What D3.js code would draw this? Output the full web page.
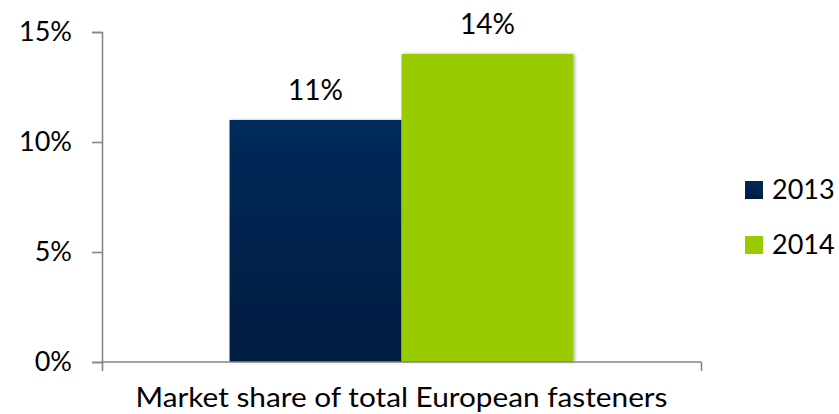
<!DOCTYPE html>
<html>
<head>
<meta charset="utf-8">
<script src="https://cdn.jsdelivr.net/npm/d3@7"></script>
<style>
  body { margin:0; background:#fff; }
  svg text { font-family: Lato, "Open Sans", sans-serif; fill:#000; }
</style>
</head>
<body>
<div id="chart"></div>
<script>
// data
var categories = ["Market share of total European fasteners"];
var seriesNames = ["2013", "2014"];
var values2013 = [11];
var values2014 = [14];
var yTicks = [0, 5, 10, 15];
var barColors = ["#022858", "#99CC00"];

var width = 839, height = 414;
var plot = {left: 102, top: 32, right: 701, bottom: 362};

var svg = d3.select("#chart").append("svg")
  .attr("width", width).attr("height", height);

var defs = svg.append("defs");
var grad = defs.append("linearGradient").attr("id", "navyGrad")
  .attr("x1", 0).attr("y1", 0).attr("x2", 0).attr("y2", 1);
grad.append("stop").attr("offset", "0%").attr("stop-color", "#032a5a");
grad.append("stop").attr("offset", "100%").attr("stop-color", "#001c40");

var shadow = defs.append("filter").attr("id", "shd")
  .attr("x", "-10%").attr("y", "-10%").attr("width", "130%").attr("height", "130%");
shadow.append("feDropShadow").attr("dx", 1.5).attr("dy", 0).attr("stdDeviation", 1.5)
  .attr("flood-color", "#000").attr("flood-opacity", 0.3);

var y = d3.scaleLinear().domain([0, 15]).range([plot.bottom, plot.top]);
var x0 = d3.scaleBand().domain(categories).range([plot.left, plot.right]).paddingInner(0).paddingOuter(0.371);
var x1 = d3.scaleBand().domain(seriesNames).range([0, x0.bandwidth()]);

var fills = ["url(#navyGrad)", barColors[1]];
var seriesVals = [values2013, values2014];

// bars + value labels
var g = svg.append("g");
categories.forEach(function(cat, ci){
  seriesNames.forEach(function(s, si){
    var v = seriesVals[si][ci];
    g.append("rect")
      .attr("x", x0(cat) + x1(s))
      .attr("y", y(v))
      .attr("width", x1.bandwidth())
      .attr("height", y(0) - y(v))
      .attr("fill", fills[si])
      .attr("filter", "url(#shd)");
    g.append("text")
      .attr("x", x0(cat) + x1(s) + x1.bandwidth()/2)
      .attr("y", y(v) - 20)
      .attr("text-anchor", "middle")
      .style("font-size", "28px")
      .text(v + "%");
  });
});

// y axis
var yAxis = svg.append("g")
  .attr("transform", "translate(" + plot.left + ",0)")
  .call(d3.axisLeft(y).tickValues(yTicks).tickSize(10).tickPadding(20).tickFormat(function(d){ return d + "%"; }));
yAxis.select(".domain").attr("stroke", "#868686").attr("stroke-width", 1.6);
yAxis.selectAll(".tick line").attr("stroke", "#868686").attr("stroke-width", 1.6);
yAxis.selectAll(".tick text").style("font-size", "27px").attr("fill", "#000").attr("font-family", null);

// x axis
var xAxis = svg.append("g")
  .attr("transform", "translate(0," + plot.bottom + ")")
  .call(d3.axisBottom(d3.scaleLinear().domain([0, 1]).range([plot.left, plot.right]))
    .tickValues([0, 1]).tickSize(9).tickFormat(""));
xAxis.select(".domain").attr("stroke", "#868686").attr("stroke-width", 1.6)
  .attr("d", "M" + plot.left + ",0H" + plot.right);
xAxis.selectAll(".tick line").attr("stroke", "#868686").attr("stroke-width", 1.6);

svg.append("text")
  .attr("x", (plot.left + plot.right)/2)
  .attr("y", 407)
  .attr("text-anchor", "middle")
  .attr("textLength", 532)
  .attr("lengthAdjust", "spacingAndGlyphs")
  .style("font-size", "27px")
  .text(categories[0]);

// legend
var legend = svg.append("g").attr("transform", "translate(745,181)");
seriesNames.forEach(function(s, i){
  var row = legend.append("g").attr("transform", "translate(0," + (i*55) + ")");
  row.append("rect").attr("width", 18).attr("height", 18).attr("fill", fills[i]);
  row.append("text").attr("x", 27).attr("y", 18).style("font-size", "27px").text(s);
});
</script>
</body>
</html>
